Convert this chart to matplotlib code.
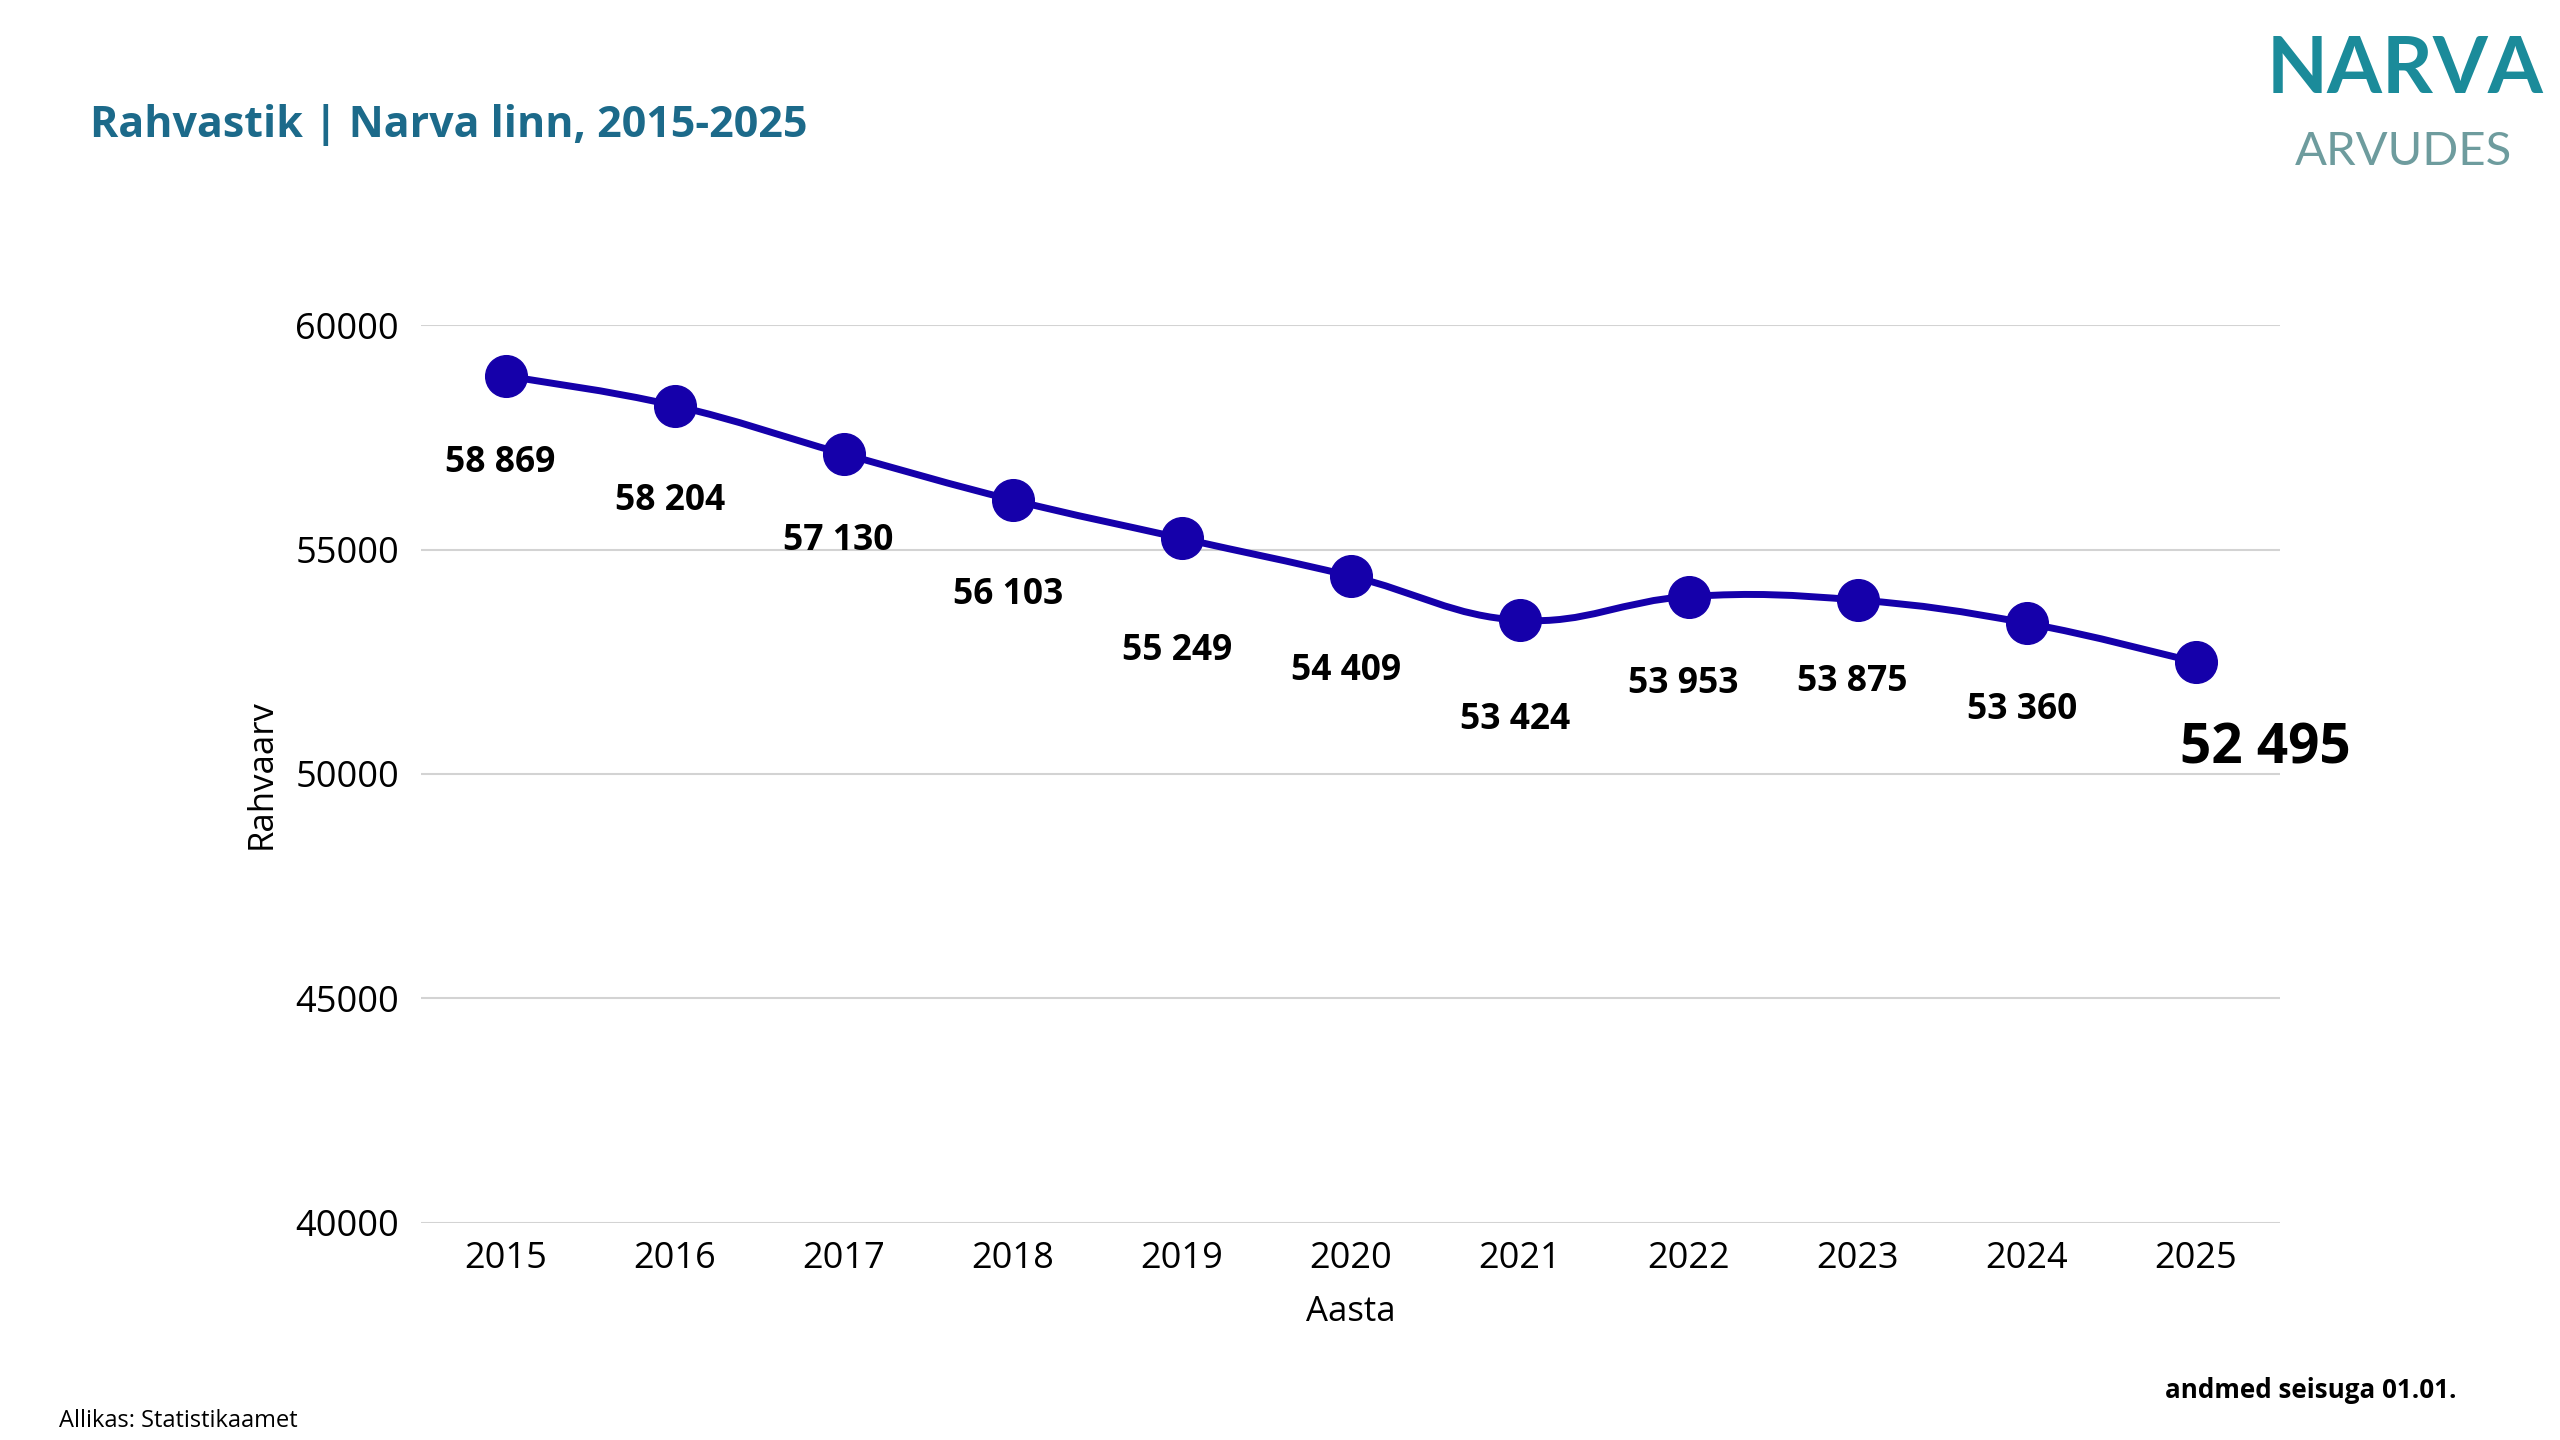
import matplotlib
matplotlib.use("Agg")
import matplotlib.pyplot as plt
from matplotlib.path import Path
from matplotlib.patches import PathPatch
import numpy as np

years = [2015, 2016, 2017, 2018, 2019, 2020, 2021, 2022, 2023, 2024, 2025]
population = [58869, 58204, 57130, 56103, 55249, 54409, 53424, 53953, 53875, 53360, 52495]
y_ticks = [40000, 45000, 50000, 55000, 60000]

# how far below each point its label sits (pixels)
label_dy = [87, 95, 87, 95, 113, 95, 100, 87, 82, 87, 87]

line_color = "#1500AA"
title_color = "#1C6A8A"

plt.rcParams["font.family"] = ["Open Sans", "DejaVu Sans"]


def fmt(v):
    # thousands separated with a space
    return f"{v:,}".replace(",", " ")


def smooth_path(xs, ys, t=0.2):
    # cubic bezier through the points (cardinal spline)
    xs = np.asarray(xs, float)
    ys = np.asarray(ys, float)
    px = np.concatenate([[xs[0]], xs, [xs[-1]]])
    py = np.concatenate([[ys[0]], ys, [ys[-1]]])
    verts = [(xs[0], ys[0])]
    codes = [Path.MOVETO]
    for i in range(1, len(xs)):
        c1 = (px[i] + t * (px[i + 1] - px[i - 1]), py[i] + t * (py[i + 1] - py[i - 1]))
        c2 = (px[i + 1] - t * (px[i + 2] - px[i]), py[i + 1] - t * (py[i + 2] - py[i]))
        verts += [c1, c2, (px[i + 1], py[i + 1])]
        codes += [Path.CURVE4] * 3
    return Path(verts, codes)


fig = plt.figure(figsize=(25.6, 14.4), dpi=100)
ax = fig.add_axes([0.1645, 0.1507, 0.7262, 0.6236])

ax.add_patch(PathPatch(smooth_path(years, population), facecolor="none",
                       edgecolor=line_color, linewidth=5, zorder=3, capstyle="round"))
ax.plot(years, population, linestyle="none", marker="o", markersize=30,
        color=line_color, zorder=4, clip_on=False)

for i, (x, v) in enumerate(zip(years, population)):
    if i == len(years) - 1:
        ax.annotate(fmt(v), (x, v), xytext=(-16, -label_dy[i]), textcoords="offset pixels",
                    ha="left", va="center", fontsize=39.5, fontweight="bold", color="black")
    else:
        ax.annotate(fmt(v), (x, v), xytext=(-5, -label_dy[i]), textcoords="offset pixels",
                    ha="center", va="center", fontsize=25.5, fontweight="bold", color="black")

ax.set_xlim(2014.5, 2025.5)
ax.set_ylim(40000, 60000)
ax.set_xticks(years)
ax.set_yticks(y_ticks)
ax.tick_params(axis="both", length=0, labelsize=26, colors="black")
ax.tick_params(axis="x", pad=13)
ax.tick_params(axis="y", pad=16)
ax.grid(axis="y", color="#d3d3d3", linewidth=1.5)
ax.set_axisbelow(True)
for s in ax.spines.values():
    s.set_visible(False)

ax.set_xlabel("Aasta", fontsize=25)
ax.xaxis.set_label_coords(0.5, -0.080)
ax.set_ylabel("Rahvaarv", fontsize=25, va="center")
ax.yaxis.set_label_coords(-0.086, 0.5)

fig.text(0.0352, 0.905, "Rahvastik | Narva linn, 2015-2025", fontsize=31,
         fontweight="bold", color=title_color, va="baseline", ha="left")

# logo
fig.text(0.9395, 0.9354, "NARVA", fontsize=57, fontweight="bold", color="#1B8B9A",
         family=["Lato", "DejaVu Sans"], ha="center", va="baseline")
fig.text(0.939, 0.8854, "ARVUDES", fontsize=34, color="#6E9C9E",
         family=["Lato", "DejaVu Sans"], ha="center", va="baseline")

fig.text(0.023, 0.009, "Allikas: Statistikaamet", fontsize=17, color="black",
         ha="left", va="baseline")
fig.text(0.9594, 0.029, "andmed seisuga 01.01.", fontsize=18.7, fontweight="bold",
         color="black", ha="right", va="baseline")

fig.savefig("out.png", dpi=100, facecolor="white")
